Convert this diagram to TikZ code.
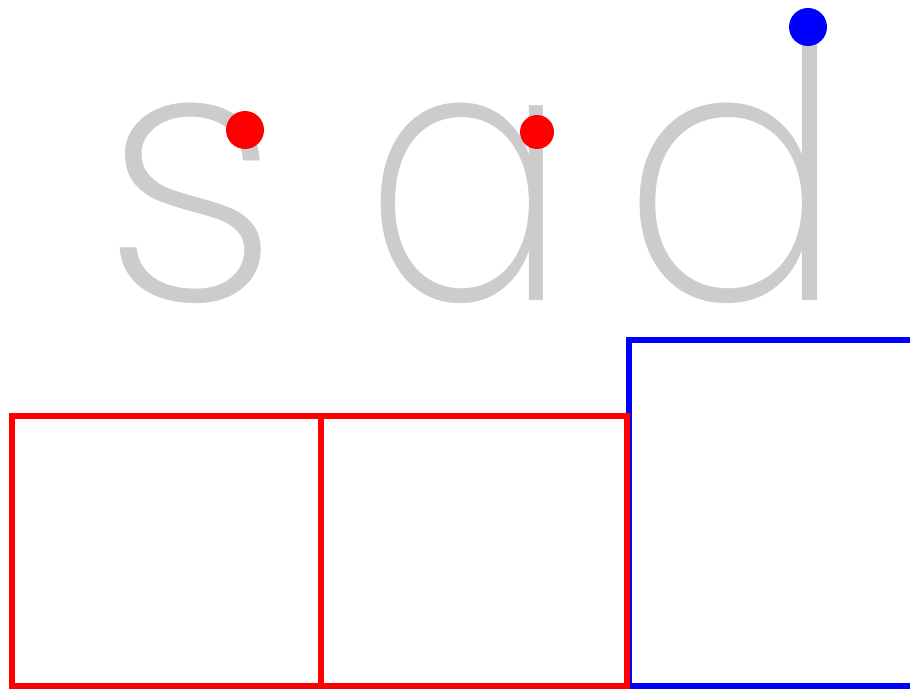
\documentclass[tikz,border=0pt]{standalone}
\usepackage{fontspec}
\newfontfamily\letterfont{Poppins}[UprightFont={* ExtraLight},UprightFeatures={FakeBold=0.12}]
\usepackage{tikz}
\usepackage{xcolor}
\definecolor{lettergray}{RGB}{204,204,204}

\begin{document}
\begin{tikzpicture}[letter/.style={anchor=base,inner sep=0pt,text=lettergray,font=\letterfont\fontsize{102}{102}\selectfont},
  redbox/.style={draw=red,line width=1.8pt},bluebox/.style={draw=blue,line width=1.8pt}]
\useasboundingbox (0,0) rectangle (9.1,6.9);
\clip (0,0) rectangle (9.1,6.9);
\node[letter] (s) at (1.91,3.90) {s};
\node[letter,xscale=0.84] (a) at (4.66,3.90) {a};
\node[letter,xscale=0.92] (d) at (7.33,3.90) {d};
\fill[red] (2.45,5.60) circle (0.19);
\fill[red] (5.37,5.58) circle (0.17);
\fill[blue] (8.08,6.63) circle (0.19);
\draw[bluebox] (6.29,0.04) rectangle (9.3,3.50);
\draw[redbox] (0.12,0.04) rectangle (3.21,2.74);
\draw[redbox] (3.21,0.04) rectangle (6.27,2.74);
\end{tikzpicture}
\end{document}
